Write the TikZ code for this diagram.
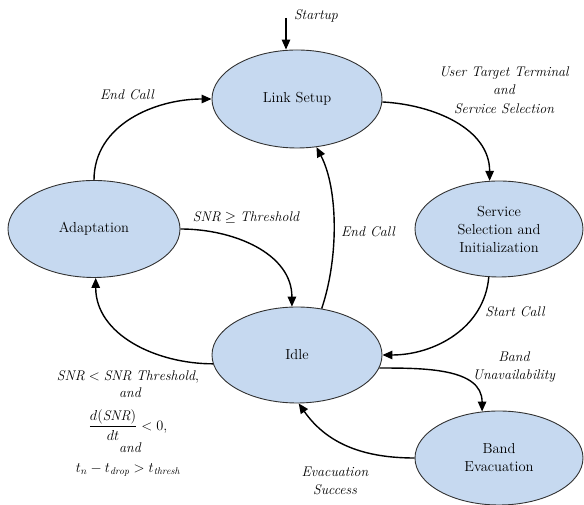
\documentclass[tikz,border=0pt]{standalone}
\usepackage{amsmath}
\usepackage{fontspec}
\usetikzlibrary{shapes.geometric,arrows.meta}
\definecolor{stfill}{RGB}{198,217,240}
\definecolor{stborder}{RGB}{50,50,50}
\begin{document}
\begin{tikzpicture}[x=1pt,y=1pt,
  state/.style={ellipse, draw=stborder, line width=0.9pt, fill=stfill,
    inner sep=0pt, align=center, font=\fontsize{14.5}{18}\selectfont},
  trans/.style={line width=1.4pt, -{Triangle[length=10pt,width=8.5pt]}},
  lbl/.style={font=\fontsize{14}{18.5}\selectfont\itshape, align=center, inner sep=0pt},
  cond/.style={font=\fontsize{14}{18}\selectfont, inner sep=0pt}]
\useasboundingbox (0,0) rectangle (584,505);

% states
\node[state, minimum width=170pt, minimum height=98pt] (link)  at (297,406) {Link Setup};
\node[state, minimum width=172pt, minimum height=97pt] (adapt) at (94,276) {Adaptation};
\node[state, minimum width=168pt, minimum height=96pt] (serv)  at (499,276) {Service\\Selection and\\Initialization};
\node[state, minimum width=170pt, minimum height=96pt] (idle)  at (297,150) {Idle};
\node[state, minimum width=168pt, minimum height=94pt] (evac)  at (499,47) {Band\\Evacuation};

% entry point
\coordinate (st) at (286,487);

% transitions
\draw[trans] (st) -- (st |- link.north);
\draw[trans] (link.-2) to[out=-3,in=90] (serv.101);
\draw[trans] (serv.258) to[out=-95,in=0] (idle.east);
\draw[trans] (idle.-9) to[out=0,in=90] (evac.110);
\draw[trans] (evac.west) to[out=180,in=-55] (idle.-88);
\draw[trans] (idle.186) to[out=180,in=-90] (adapt.-88);
\draw[trans] (adapt.east) to[out=0,in=90] (idle.96);
\draw[trans] (idle.62) .. controls +(17,50) and +(22,-42) .. (link.-68);
\draw[trans] (adapt.north) to[out=90,in=180] (link.west);

% transition labels
\node[lbl] (lstart) at (316,489) {Startup};
\node[lbl] (lend1)  at (127,410) {End Call};
\node[lbl] (lsel)   at (504,415) {User Target Terminal\\and\\Service Selection};
\node[lbl] (lsnr)   at (246,287) {$\mathit{SNR} \geq \mathit{Threshold}$};
\node[lbl] (lend2)  at (368,273) {End Call};
\node[lbl] (lcall)  at (515,193) {Start Call};
\node[lbl] (lband)  at (514,138) {Band\\Unavailability};
\node[lbl] (lsucc)  at (335,24)  {Evacuation\\Success};

% drop condition, one line per node
\node[cond] (c1) at (128,128) {$\mathit{SNR} < \mathit{SNR\ Threshold},$};
\node[cond] (c2) at (130,112) {\itshape and};
\node[cond] (c3) at (128,80)  {$\dfrac{d(\mathit{SNR})}{dt} < 0,$};
\node[cond] (c4) at (130,57)  {\itshape and};
\node[cond] (c5) at (128,35)  {$t_n - t_{\mathit{drop}} > t_{\mathit{thresh}}$};
\end{tikzpicture}
\end{document}
